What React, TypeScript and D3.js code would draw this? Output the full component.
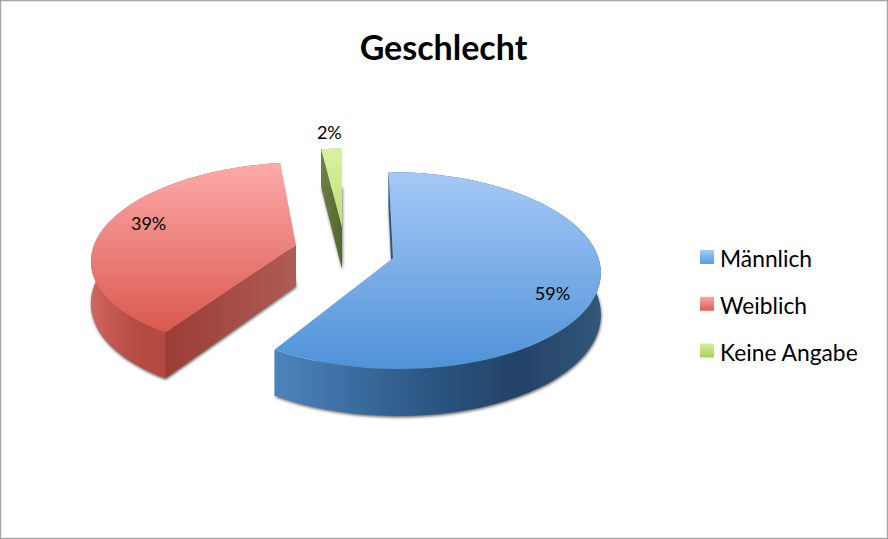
import React, { useRef, useEffect } from 'react';
import * as d3 from 'd3';

const categories = ['Männlich', 'Weiblich', 'Keine Angabe'];
const shares = [59.0, 38.8, 2.2];

const WIDTH = 888;
const HEIGHT = 539;
const FONT = 'Lato, Carlito, sans-serif';

// each exploded slice gets its own perspective
const sliceViews = [
  { cx: 393, cy: 258, r: 205.5, rk: 96.9, p: 0.127, skew: -5, depth: 41, labelR: 0.78, labelDy: 14 },
  { cx: 296, cy: 245, r: 202, rk: 93, p: 0.123, skew: 10.4, depth: 41, labelR: 0.77, labelDy: -6 },
  { cx: 342, cy: 227, r: 170, rk: 88, p: 0.123, skew: 0, depth: 42, labelR: 1.24, labelDy: 0 },
];

const topStops = [
  ['#a6c9f7', '#4e92d8'],
  ['#fdabaa', '#d9574d'],
  ['#d9f2a0', '#bcdc72'],
];
const topRanges = [[172, 370], [163, 335], [149, 240]];
const faceColors = [
  ['#2a5584', '#2a5584'],
  ['#9c3c35', '#ae5c55'],
  ['#6b7d42', '#55682c'],
];
const wallStops = [
  ['#4c84bd', '#3a6c9e', '#2a5480', '#234267', '#315779'],
  ['#cf6660', '#c65a53', '#b84d45', '#b44a42', '#b44a42'],
  ['#6b7d42', '#6b7d42', '#6b7d42', '#6b7d42', '#6b7d42'],
];
const wallRanges = [[275, 601], [91, 170], [320, 344]];
const legendStops = [
  ['#a6c9f7', '#5a9ce0'],
  ['#f9a5a3', '#dc5f57'],
  ['#d6ee9c', '#a9cf5c'],
];

export default function App() {
  const svgRef = useRef<SVGSVGElement>(null);

  useEffect(() => {
    if (!svgRef.current) return;

    const svg = d3.select(svgRef.current);
    svg.selectAll('*').remove();

    svg.append('rect')
      .attr('x', 0.5).attr('y', 0.5)
      .attr('width', WIDTH - 1).attr('height', HEIGHT - 1)
      .attr('fill', '#fff')
      .attr('stroke', '#a6a6a6')
      .attr('stroke-width', 1.5);

    const defs = svg.append('defs');

    const addGradient = (id: string, x1: number, y1: number, x2: number, y2: number, colors: string[]) => {
      const grad = defs.append('linearGradient')
        .attr('id', id)
        .attr('gradientUnits', 'userSpaceOnUse')
        .attr('x1', x1).attr('y1', y1)
        .attr('x2', x2).attr('y2', y2);
      colors.forEach((c, i) => {
        grad.append('stop')
          .attr('offset', `${(i / (colors.length - 1)) * 100}%`)
          .attr('stop-color', c);
      });
    };

    defs.append('filter')
      .attr('id', 'slice-shadow')
      .attr('x', '-20%').attr('y', '-20%')
      .attr('width', '140%').attr('height', '140%')
      .append('feGaussianBlur')
      .attr('stdDeviation', 1.8);

    const pie = d3.pie<number>().sort(null).value((d: number) => d);
    const arcs = pie(shares);

    const line = d3.line<[number, number]>()
      .x((d: [number, number]) => d[0])
      .y((d: [number, number]) => d[1]);

    arcs.forEach((arc: d3.PieArcDatum<number>, i: number) => {
      const v = sliceViews[i];

      // ellipse with perspective: things at the back shrink, things at the front grow
      const project = (theta: number, f: number, z: number): [number, number] => {
        const s = 1 / (1 + v.p * f * Math.cos(theta));
        return [
          v.cx + (v.r * Math.sin(theta) + v.skew * Math.cos(theta)) * f * s,
          v.cy - v.rk * Math.cos(theta) * f * s + z * s,
        ];
      };

      const steps = d3.range(0, 61).map((k: number) => arc.startAngle + ((arc.endAngle - arc.startAngle) * k) / 60);
      const rim = (z: number) => steps.map((t: number) => project(t, 1, z));
      const apex = (z: number) => project(arc.startAngle, 0, z);

      const [ty0, ty1] = topRanges[i];
      addGradient(`top-${i}`, 0, ty0, 0, ty1, topStops[i]);
      const [wx0, wx1] = wallRanges[i];
      addGradient(`wall-${i}`, wx0, 0, wx1, 0, wallStops[i]);

      const startRim = project(arc.startAngle, 1, 0);
      addGradient(`face-${i}`, startRim[0], 0, apex(0)[0], 0, faceColors[i]);

      const g = svg.append('g');

      // soft shadow comes from the underside of the slice
      g.append('path')
        .attr('d', line([apex(v.depth), ...rim(v.depth)]) + 'Z')
        .attr('transform', 'translate(0.5,1.5)')
        .attr('fill', '#000')
        .attr('fill-opacity', 0.62)
        .attr('filter', 'url(#slice-shadow)');

      g.append('path')
        .attr('d', line([
          project(arc.startAngle, 1, 0),
          apex(0),
          apex(v.depth),
          project(arc.startAngle, 1, v.depth),
        ]) + 'Z')
        .attr('fill', `url(#face-${i})`);

      g.append('path')
        .attr('d', line([...rim(0), ...rim(v.depth).reverse()]) + 'Z')
        .attr('fill', `url(#wall-${i})`);

      g.append('path')
        .attr('d', line([apex(0), ...rim(0)]) + 'Z')
        .attr('fill', `url(#top-${i})`);

      const mid = (arc.startAngle + arc.endAngle) / 2;
      const [lx, ly] = project(mid, v.labelR, 0);
      g.append('text')
        .attr('x', lx)
        .attr('y', ly + v.labelDy)
        .attr('dy', '0.35em')
        .attr('text-anchor', 'middle')
        .style('font-family', FONT)
        .style('font-size', '18px')
        .style('fill', '#000')
        .text(`${Math.round(arc.data)}%`);
    });

    // Title
    svg.append('text')
      .attr('x', 443.5)
      .attr('y', 60)
      .attr('text-anchor', 'middle')
      .style('font-family', FONT)
      .style('font-weight', 700)
      .style('font-size', '34px')
      .style('fill', '#000')
      .text('Geschlecht');

    // Legend
    const legendY = d3.scalePoint<string>()
      .domain(categories)
      .range([257, 350.5]);

    categories.forEach((name: string, i: number) => {
      const y = legendY(name) as number;
      addGradient(`legend-${i}`, 0, y - 7, 0, y + 7, legendStops[i]);
      svg.append('rect')
        .attr('x', 700)
        .attr('y', y - 7)
        .attr('width', 14)
        .attr('height', 14)
        .attr('fill', `url(#legend-${i})`);
      svg.append('text')
        .attr('x', 720)
        .attr('y', y + 10)
        .style('font-family', FONT)
        .style('font-size', '22.8px')
        .style('fill', '#000')
        .text(name);
    });
  }, []);

  return (
    <svg
      ref={svgRef}
      width={WIDTH}
      height={HEIGHT}
      style={{ position: 'absolute', left: 0, top: 0, display: 'block' }}
    />
  );
}
